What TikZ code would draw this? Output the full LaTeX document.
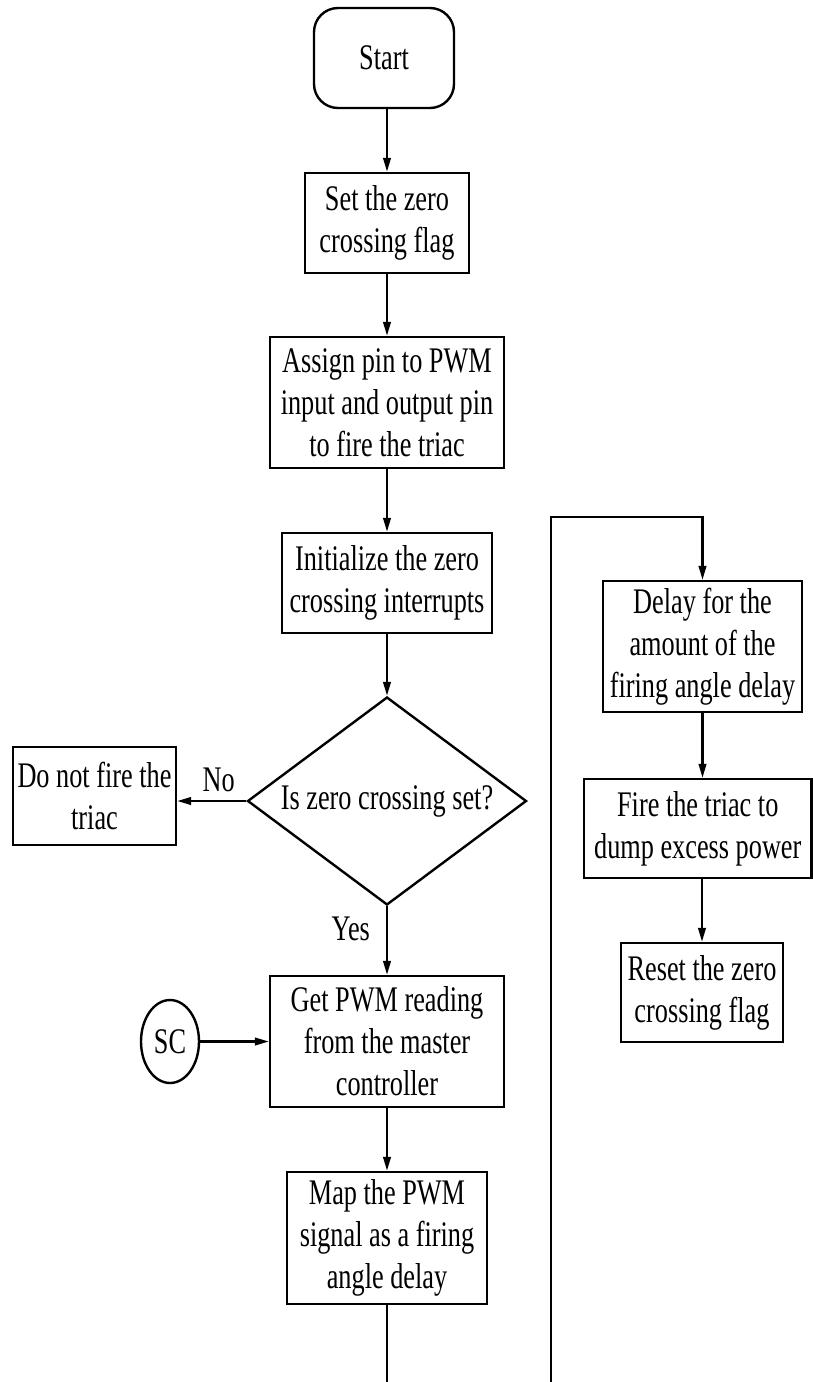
\documentclass[tikz,border=0pt]{standalone}
\usepackage{fontspec}
\usetikzlibrary{arrows.meta,shapes.geometric}
\newfontfamily\flowfont[FakeStretch=0.73]{Liberation Serif}
\newcommand{\flowtext}{\flowfont\fontsize{18pt}{21pt}\selectfont}

\tikzset{
  flowline/.style={line width=1.1pt},
  flowarrow/.style={flowline,-{Triangle[length=7pt,width=3.8pt]}},
  procbox/.style={draw,line width=1.2pt,rectangle,inner sep=0pt,align=center,font=\flowtext},
  termbox/.style={draw,line width=1.2pt,rectangle,rounded corners=12pt,inner sep=0pt,align=center,font=\flowtext},
  decbox/.style={draw,line width=1.2pt,diamond,aspect=1.34,inner sep=0pt,align=center,font=\flowtext},
  connbox/.style={draw,line width=1.2pt,ellipse,inner sep=0pt,align=center,font=\flowtext},
  edgelabel/.style={font=\flowtext,inner sep=0pt}
}

\begin{document}
\begin{tikzpicture}[x=0.5pt,y=-0.5pt]
  \path[use as bounding box] (0,0) rectangle (813,1382);

  % main column
  \node[termbox,minimum width=70pt,minimum height=50pt] (start) at (384,58) {Start};
  \node[procbox,minimum width=82pt,minimum height=50pt] (setflag) at (387,223) {Set the zero\\crossing flag};
  \node[procbox,minimum width=117pt,minimum height=65.5pt] (assign) at (387,402.5) {Assign pin to PWM\\input and output pin\\to fire the triac};
  \node[procbox,minimum width=105pt,minimum height=50pt] (init) at (387,583) {Initialize the zero\\crossing interrupts};
  \node[decbox,minimum width=139.5pt,minimum height=104pt] (zc) at (387,801) {Is zero crossing set?};
  \node[procbox,minimum width=81.5pt,minimum height=49pt] (nofire) at (94.5,796) {Do not fire the\\triac};
  \node[procbox,minimum width=117pt,minimum height=65.5pt] (getpwm) at (387,1041.5) {Get PWM reading\\from the master\\controller};
  \node[connbox,minimum width=29pt,minimum height=41.5pt] (sc) at (170,1041.5) {SC};
  \node[procbox,minimum width=100pt,minimum height=66pt] (map) at (387,1238) {Map the PWM\\signal as a firing\\angle delay};

  % right column
  \node[procbox,minimum width=99.5pt,minimum height=65.5pt] (delay) at (702.5,646.5) {Delay for the\\amount of the\\firing angle delay};
  \node[procbox,minimum width=113.75pt,minimum height=49.5pt] (fire) at (697.75,828.5) {Fire the triac to\\dump excess power};
  \node[procbox,minimum width=81pt,minimum height=49.5pt] (reset) at (702,992.5) {Reset the zero\\crossing flag};

  % free ends of the loop line
  \coordinate (mapend) at (387,1382);
  \coordinate (loopbot) at (551,1382);
  \coordinate (looptop) at (551,517);

  % connectors
  \draw[flowarrow] (setflag.north |- start.south) -- (setflag.north);
  \draw[flowarrow] (setflag) -- (assign);
  \draw[flowarrow] (assign) -- (init);
  \draw[flowarrow] (init) -- (zc);
  \draw[flowarrow] (zc.west) -- (nofire.east |- zc.west)
    node[edgelabel,pos=0.4,above=4pt] (nolabel) {No};
  \draw[flowarrow] (zc.south) -- (getpwm.north)
    node[edgelabel,pos=0.33,left=8pt] (yeslabel) {Yes};
  \draw[flowarrow] (sc) -- (getpwm);
  \draw[flowarrow] (getpwm) -- (map);
  \draw[flowline] (map.south) -- (mapend);
  \draw[flowarrow] (loopbot) -- (looptop) -| (delay.north);
  \draw[flowarrow] (delay.south) -- (delay.south |- fire.north);
  \draw[flowarrow] (reset.north |- fire.south) -- (reset.north);
\end{tikzpicture}
\end{document}
